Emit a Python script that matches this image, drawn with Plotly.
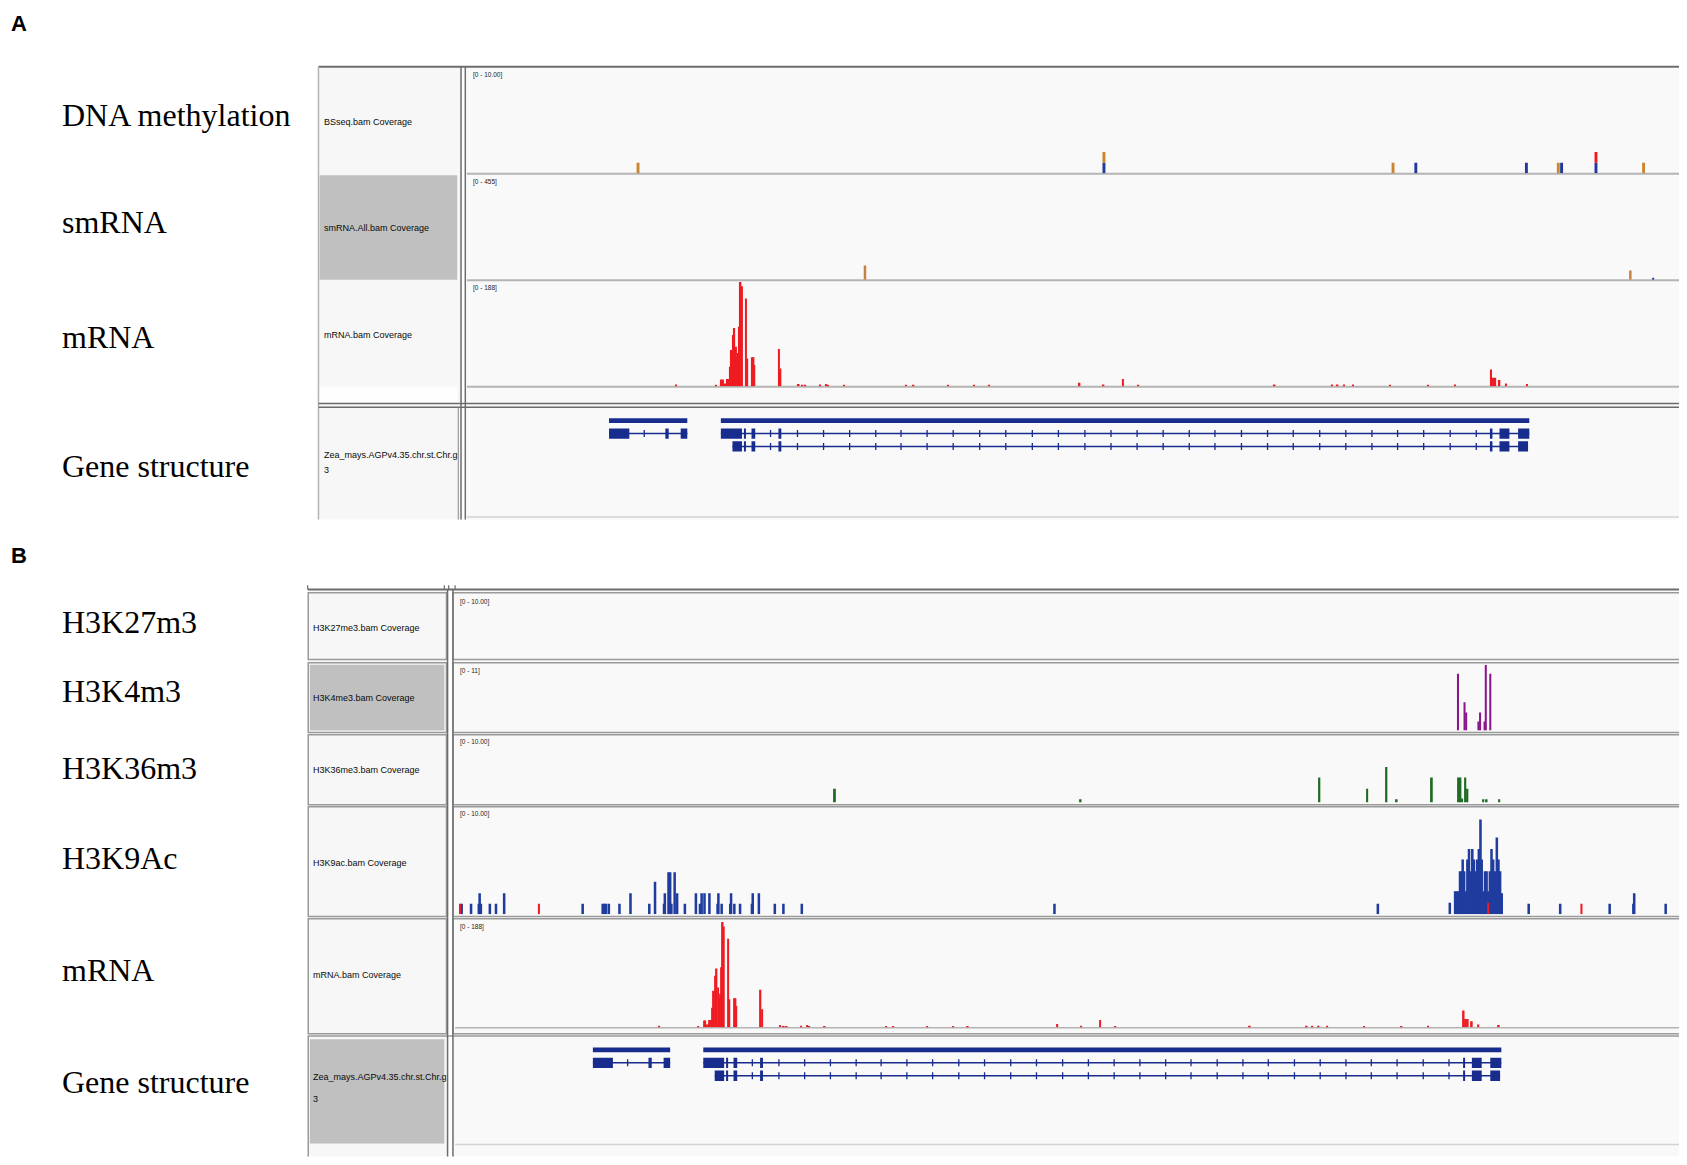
import plotly.graph_objects as go

# ---------------- data (positions in kb along the viewed locus) ----------------
# BSseq coverage, counts per allele colour
meth_pos = [4.07, 15.32, 22.30, 22.85, 25.52, 26.29, 26.37, 27.20, 28.35]
meth_C = [0, 1, 0, 1, 1, 0, 1, 1, 0]
meth_G = [1, 1, 1, 0, 0, 1, 0, 0, 1]
meth_T = [0, 0, 0, 0, 0, 0, 0, 1, 0]

# smRNA coverage
smrna_pos = [9.55, 28.03, 28.58]
smrna_G = [63, 40, 0]
smrna_C = [0, 0, 9]

# mRNA coverage (same library in A and B)
mrna_pos = [4.99, 5.95, 6.09, 6.12, 6.15, 6.19, 6.23, 6.27, 6.30, 6.33, 6.36, 6.395, 6.43, 6.46,
            6.49, 6.52, 6.545, 6.575, 6.68, 6.71, 6.83, 6.86, 6.88, 7.47, 7.51, 7.95, 8.04, 8.11,
            8.46, 8.61, 8.66, 9.04, 10.54, 10.72, 11.55, 12.18, 12.54, 14.73, 15.31, 15.78, 16.15,
            19.44, 20.83, 20.96, 21.12, 21.33, 22.23, 23.15, 23.80, 24.67, 24.72, 24.77, 24.87,
            25.03, 25.53]
mrna_val = [3, 2, 12, 12, 5, 5, 13, 13, 35, 65, 92, 105, 71, 53,
            60, 107, 188, 180, 158, 50, 52, 52, 38, 67, 32, 4, 2, 2,
            3, 4, 2, 2, 2, 2, 2, 2, 2, 6, 3, 13, 2,
            3, 3, 3, 3, 3, 2, 2, 3, 30, 15, 15, 11,
            5, 4]

# histone marks
k27_pos = []
k27_val = []

k4_pos = [24.53, 24.69, 24.73, 25.03, 25.07, 25.18, 25.21, 25.32]
k4_val = [9.5, 4.7, 3.0, 1.5, 3.0, 1.5, 11.0, 9.5]

k36_pos = [9.29, 15.30, 21.14, 22.31, 22.78, 23.03, 23.89, 24.55, 24.59, 24.63, 24.71, 24.76,
           25.15, 25.23, 25.54]
k36_val = [2.1, 0.5, 3.8, 2.1, 5.4, 0.5, 3.8, 3.8, 3.8, 0.6, 3.8, 2.1, 0.5, 0.5, 0.5]

k9_pos = [0.16, 0.39, 0.58, 0.60, 0.63, 0.85, 1.00, 1.20, 3.12, 3.61, 3.65, 3.69, 3.76, 4.02,
          4.29, 4.75, 4.89, 5.11, 5.13, 5.22, 5.26, 5.29, 5.37, 5.43, 5.62, 5.89, 5.99, 6.03,
          6.10, 6.22, 6.42, 6.44, 6.52, 6.73, 6.75, 6.83, 6.97, 7.26, 7.28, 7.43, 7.82, 8.03,
          8.48, 14.66, 22.57, 24.33,
          24.46, 24.50, 24.54, 24.58, 24.62, 24.645, 24.68, 24.72, 24.76, 24.80,
          24.84, 24.88, 24.92, 24.96, 25.00, 25.04, 25.08, 25.11, 25.15, 25.19,
          25.23, 25.27, 25.31, 25.35, 25.39, 25.44, 25.48, 25.52, 25.56, 25.60,
          26.26, 27.03, 28.24, 28.82, 28.84, 29.61]
k9_val = [1, 1, 1, 2, 1, 1, 1, 2, 1, 1, 1, 1, 1, 1,
          2, 1, 3.1, 1, 2, 4, 4, 1, 4, 2, 1, 2, 1, 2,
          2, 2, 1, 2, 1, 1, 2, 1, 1, 1, 2, 2, 1, 1,
          1, 1, 1, 1.1,
          2.2, 2.2, 2.2, 4.1, 4.1, 5.2, 4.1, 2.2, 5.2, 6.2,
          4.1, 6.2, 5.2, 4.1, 5.2, 6.2, 9.0, 5.2, 2.2, 4.1,
          4.1, 2.2, 4.1, 6.2, 5.2, 4.1, 7.3, 5.2, 4.1, 2.0,
          1, 1, 1, 1, 2, 1]
k9_red_pos = [0.12, 2.05, 25.27, 27.55]
k9_red_val = [1, 1, 1.1, 1]

# gene models: row 1 = collapsed genes, rows 2-3 = transcripts
gene_start = [3.37, 6.07]
gene_end = [5.26, 25.59]
tx_row = [2, 2, 3]
tx_start = [3.37, 6.07, 6.35]
tx_end = [5.26, 25.59, 25.56]
tx_exon_start = [[3.37, 4.73, 5.10],
                 [6.07, 6.64, 6.81, 7.46, 24.66, 24.87, 25.32],
                 [6.35, 6.64, 6.81, 7.46, 24.66, 24.87, 25.32]]
tx_exon_end = [[3.86, 4.81, 5.26],
               [6.58, 6.67, 6.90, 7.53, 24.70, 25.11, 25.59],
               [6.58, 6.67, 6.90, 7.53, 24.70, 25.11, 25.56]]
intron_marks = [7.27, 7.92, 8.55, 9.18, 9.81, 10.42, 11.05, 11.68, 12.32, 12.95, 13.59, 14.22,
                14.86, 15.49, 16.12, 16.75, 17.38, 18.00, 18.64, 19.27, 19.89, 20.53, 21.16,
                21.79, 22.41, 23.04, 23.68, 24.31]
tx_marks = [[4.22], intron_marks, intron_marks]

# ---------------- layout helpers ----------------
# the page puts the plot 8px in from the top-left corner
W, H = 1679, 1149
PAD = 8
SX, SY = 1568.0, 1083.0  # grid the layout was measured on
KX, KY = 1687 / SX, 1165 / SY

VIEW_A = [-0.061, 29.268]
VIEW_B = [0, 30]

C_BLUE = '#22389a'
C_ORANGE = '#c9862f'
C_RED = '#ee1c22'
C_GENE = '#172c8c'


def px(x):
    return (x * KX - PAD) / W


def py(y):
    return 1 - (y * KY - PAD) / H


fig = go.Figure()
axes = {}
counter = [0]


def new_axes(xr, x0, x1, yr, ybot, ytop):
    counter[0] += 1
    n = counter[0]
    s = '' if n == 1 else str(n)
    axes['xaxis' + s] = dict(domain=[px(x0), min(px(x1), 1)], range=xr, visible=False,
                             fixedrange=True, anchor='y' + s)
    axes['yaxis' + s] = dict(domain=[py(ybot), py(ytop)], range=yr, visible=False,
                             fixedrange=True, anchor='x' + s)
    return 'x' + s, 'y' + s


def bars(ax, pos, val, color, width, base=None):
    fig.add_trace(go.Bar(x=pos, y=val, base=base, width=width,
                         marker=dict(color=color, line=dict(width=0)),
                         xaxis=ax[0], yaxis=ax[1], showlegend=False, hoverinfo='skip'))


def gene_track(ax):
    # collapsed gene bars
    fig.add_trace(go.Bar(x=[(s + e) / 2 for s, e in zip(gene_start, gene_end)],
                         y=[0.36] * len(gene_start), base=[1 - 0.18] * len(gene_start),
                         width=[e - s for s, e in zip(gene_start, gene_end)],
                         marker=dict(color=C_GENE, line=dict(width=0)),
                         xaxis=ax[0], yaxis=ax[1], showlegend=False, hoverinfo='skip'))
    for r, s, e, es, ee, mk in zip(tx_row, tx_start, tx_end, tx_exon_start, tx_exon_end, tx_marks):
        fig.add_trace(go.Scatter(x=[s, e], y=[r, r], mode='lines',
                                 line=dict(color=C_GENE, width=1.6),
                                 xaxis=ax[0], yaxis=ax[1], showlegend=False, hoverinfo='skip'))
        fig.add_trace(go.Scatter(x=mk, y=[r] * len(mk), mode='markers',
                                 marker=dict(symbol='line-ns-open', size=5, color=C_GENE,
                                             line=dict(color=C_GENE, width=1.3)),
                                 xaxis=ax[0], yaxis=ax[1], showlegend=False, hoverinfo='skip'))
        fig.add_trace(go.Bar(x=[(a + b) / 2 for a, b in zip(es, ee)],
                             y=[0.8] * len(es), base=[r - 0.4] * len(es),
                             width=[b - a for a, b in zip(es, ee)],
                             marker=dict(color=C_GENE, line=dict(width=0)),
                             xaxis=ax[0], yaxis=ax[1], showlegend=False, hoverinfo='skip'))


# ---------------- panel A ----------------
ax = new_axes(VIEW_A, 434, 1563, [0, 10], 161, 63)
bars(ax, meth_pos, meth_C, C_BLUE, 0.07)
bars(ax, meth_pos, meth_G, C_ORANGE, 0.07, base=meth_C)
bars(ax, meth_pos, meth_T, C_RED, 0.07, base=[c + g for c, g in zip(meth_C, meth_G)])

ax = new_axes(VIEW_A, 434, 1563, [0, 455], 260, 164)
bars(ax, smrna_pos, smrna_G, '#c4823e', 0.06)
bars(ax, smrna_pos, smrna_C, C_BLUE, 0.05)

ax = new_axes(VIEW_A, 434, 1563, [0, 188], 359, 262)
bars(ax, mrna_pos, mrna_val, C_RED, 0.04)

ax = new_axes(VIEW_A, 434, 1563, [8.42, 0.08], 480, 380)
gene_track(ax)

# ---------------- panel B ----------------
ax = new_axes(VIEW_B, 423, 1563, [0, 10], 611, 553)
bars(ax, k27_pos, k27_val, C_BLUE, 0.05)

ax = new_axes(VIEW_B, 423, 1563, [0, 11], 679, 618)
bars(ax, k4_pos, k4_val, '#8b168b', 0.05)

ax = new_axes(VIEW_B, 423, 1563, [0, 10], 746, 685)
bars(ax, k36_pos, k36_val, '#1d6a22', 0.045)

ax = new_axes(VIEW_B, 423, 1563, [0, 10], 850, 752)
bars(ax, k9_pos, k9_val, '#1f3c9e', 0.062)
bars(ax, k9_red_pos, k9_red_val, C_RED, 0.05)

ax = new_axes(VIEW_B, 423, 1563, [0, 188], 955, 857)
bars(ax, mrna_pos, mrna_val, C_RED, 0.04)

ax = new_axes(VIEW_B, 423, 1563, [9.25, 0], 1075, 964)
gene_track(ax)

# ---------------- IGV frame ----------------
shapes = []


def rect(x0, y0, x1, y1, fill=None, line=None, lw=0):
    shapes.append(dict(type='rect', xref='paper', yref='paper', layer='below',
                       x0=px(x0), x1=px(x1), y0=py(y1), y1=py(y0),
                       fillcolor=fill or 'rgba(0,0,0,0)',
                       line=dict(color=line or 'rgba(0,0,0,0)', width=lw)))


def hline(y, x0, x1, color, lw):
    shapes.append(dict(type='line', xref='paper', yref='paper', layer='below',
                       x0=px(x0), x1=px(x1), y0=py(y), y1=py(y), line=dict(color=color, width=lw)))


def vline(x, y0, y1, color, lw):
    shapes.append(dict(type='line', xref='paper', yref='paper', layer='below',
                       x0=px(x), x1=px(x), y0=py(y0), y1=py(y1), line=dict(color=color, width=lw)))


DARK = '#6c6c6c'
MID = '#9a9a9a'
LIGHT = '#b4b4b4'

# panel A
rect(296, 62, 428, 483, fill='#f7f7f7')
rect(434, 62, 1568, 483, fill='#f9f9f9')
rect(297, 163, 425, 260, fill='#c0c0c0')
rect(297, 359, 425, 374, fill='#fefefe')
hline(62, 296, 1568, DARK, 2)
vline(296, 62, 483, LIGHT, 1.5)
vline(428.5, 62, 483, DARK, 1.5)
vline(432.5, 62, 483, DARK, 1.5)
for yb in [161.5, 260.5, 359.5]:
    hline(yb, 434, 1568, LIGHT, 2)
hline(375, 296, 1568, DARK, 1.5)
hline(378.5, 296, 1568, DARK, 1.5)
vline(426, 379, 483, MID, 1.2)
hline(480.5, 434, 1568, '#d2d2d2', 1.5)

# panel B
rect(286, 549, 416, 1075, fill='#f7f7f7')
rect(421, 549, 1568, 1075, fill='#f9f9f9')
hline(548, 286, 1568, DARK, 2)
for xt in [286, 413, 417, 423]:
    vline(xt, 544, 548, DARK, 1.2)
b_tracks = [(551, 613), (616, 681), (683, 748), (750, 852), (854, 961)]
for y0, y1 in b_tracks:
    rect(286.5, y0, 415, y1, line=MID, lw=1.5)
    rect(421, y0, 1570, y1, line=MID, lw=1.5)
hline(963, 286, 1568, MID, 1.5)
vline(286.5, 963, 1075, MID, 1.5)
rect(288, 618, 413, 679, fill='#c0c0c0')
rect(288, 966, 413, 1063, fill='#c0c0c0')
vline(416, 548, 1075, DARK, 1.5)
vline(421, 548, 1075, DARK, 1.5)
hline(955.5, 423, 1568, LIGHT, 1.5)
hline(1064, 423, 1568, '#d2d2d2', 1.5)

# ---------------- text ----------------
annotations = []


def text(x, y, s, size, family='Liberation Sans', color='#000000', bold=False):
    annotations.append(dict(x=px(x), y=py(y), xref='paper', yref='paper', text=s,
                            showarrow=False, xanchor='left', yanchor='middle',
                            font=dict(family=family, size=size, color=color,
                                      weight='bold' if bold else 'normal')))


text(8, 22, 'A', 22, bold=True)
text(8, 516, 'B', 22, bold=True)

serif = 'Liberation Serif'
for label, yy in [('DNA methylation', 107), ('smRNA', 206), ('mRNA', 313), ('Gene structure', 433)]:
    text(56, yy, label, 32, family=serif)
for label, yy in [('H3K27m3', 578), ('H3K4m3', 642), ('H3K36m3', 714), ('H3K9Ac', 798),
                  ('mRNA', 902), ('Gene structure', 1006)]:
    text(56, yy, label, 32, family=serif)

igv = '#0a0a0a'
for label, yy in [('BSseq.bam Coverage', 113), ('smRNA.All.bam Coverage', 212),
                  ('mRNA.bam Coverage', 311), ('Zea_mays.AGPv4.35.chr.st.Chr.g', 423), ('3', 437)]:
    text(299, yy, label, 9, color=igv)
for label, yy in [('H3K27me3.bam Coverage', 584), ('H3K4me3.bam Coverage', 649),
                  ('H3K36me3.bam Coverage', 716), ('H3K9ac.bam Coverage', 802),
                  ('mRNA.bam Coverage', 906), ('Zea_mays.AGPv4.35.chr.st.Chr.g', 1001), ('3', 1022)]:
    text(289, yy, label, 9, color=igv)

for label, yy in [('[0 - 10.00]', 70), ('[0 - 455]', 169), ('[0 - 188]', 268)]:
    text(438, yy, label, 6.5, color='#222222')
for label, yy in [('[0 - 10.00]', 560), ('[0 - 11]', 624), ('[0 - 10.00]', 690),
                  ('[0 - 10.00]', 757), ('[0 - 188]', 862)]:
    text(426, yy, label, 6.5, color='#222222')

fig.update_layout(width=W, height=H, margin=dict(l=0, r=0, t=0, b=0),
                  paper_bgcolor='white', plot_bgcolor='rgba(0,0,0,0)',
                  barmode='overlay', shapes=shapes, annotations=annotations,
                  showlegend=False, **axes)

fig.write_html("out.html")
